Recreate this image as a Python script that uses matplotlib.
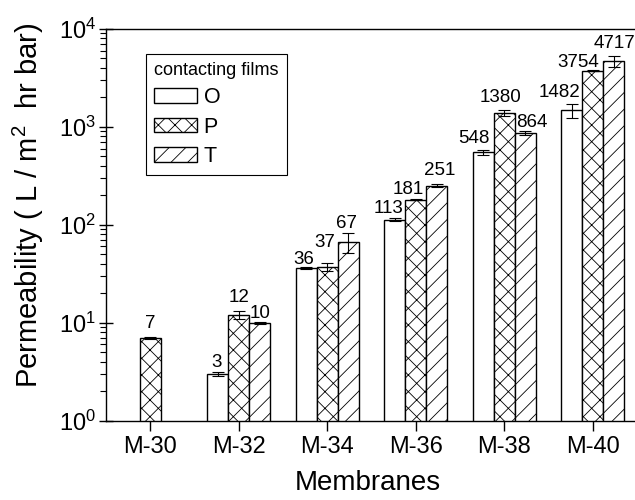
import numpy as np
import matplotlib
matplotlib.use('Agg')
import matplotlib.pyplot as plt

plt.rcParams['font.family'] = ['Liberation Sans', 'DejaVu Sans']
plt.rcParams['mathtext.fontset'] = 'custom'
plt.rcParams['mathtext.rm'] = 'Liberation Sans'
plt.rcParams['mathtext.it'] = 'Liberation Sans:italic'
plt.rcParams['mathtext.bf'] = 'Liberation Sans:bold'
plt.rcParams['hatch.linewidth'] = 0.6

# ---- data ----
membranes = ['M-30', 'M-32', 'M-34', 'M-36', 'M-38', 'M-40']
films = ['O', 'P', 'T']
perm_O = [np.nan, 3, 36, 113, 548, 1482]
perm_P = [7, 12, 37, 181, 1380, 3754]
perm_T = [np.nan, 10, 67, 251, 864, 4717]
err_O = [np.nan, 0.15, 0.6, 4, 38, 240]
err_P = [0.15, 1.2, 3.5, 2.5, 90, 70]
err_T = [np.nan, 0.25, 15, 9, 40, 600]

# ---- layout (label offsets in pixels from bar top) ----
off_O = [(0, 0), (-1, 7), (-2, 4), (-6, 7), (-9, 9), (-12, 13)]
off_P = [(0, 10), (0, 13), (-2, 20), (-7, 6), (-4, 11), (-15, 4)]
off_T = [(0, 0), (0, 5), (-2, 14), (3, 11), (6, 6), (1, 13)]
hatches = ['', 'xx', '//']

fig = plt.figure(figsize=(6.35, 5.0), dpi=100)
ax = fig.add_axes([106 / 635, 79.5 / 500, 531 / 635, 391.5 / 500])

x = np.arange(len(membranes))
w = 0.238
series = [(perm_O, err_O, off_O), (perm_P, err_P, off_P), (perm_T, err_T, off_T)]
handles = []
for i, (vals, errs, offs) in enumerate(series):
    xi = x + (i - 1) * w
    b = ax.bar(xi, vals, width=w, color='white', edgecolor='black',
               linewidth=1.0, hatch=hatches[i], label=films[i], zorder=2)
    handles.append(b)
    ax.errorbar(xi, vals, yerr=errs, fmt='none', ecolor='black',
                elinewidth=0.8, capsize=4, capthick=0.8, zorder=3)
    for xx, v, (dx, dy) in zip(xi, vals, offs):
        if np.isnan(v):
            continue
        ax.annotate(f'{int(v)}', xy=(xx, v), xytext=(dx, dy),
                    textcoords='offset pixels', ha='center', va='baseline',
                    fontsize=13.5)

ax.set_yscale('log')
ax.set_ylim(1, 1e4)
ax.set_xlim(-0.5, 5.5)
ax.set_xticks(x, membranes)
ax.tick_params(axis='x', direction='out', length=7, width=1, labelsize=17, pad=4)
ax.tick_params(axis='y', which='major', direction='inout', length=10, width=1,
               labelsize=17, pad=2)
ax.tick_params(axis='y', which='minor', direction='out', length=4, width=0.8)
for s in ax.spines.values():
    s.set_linewidth(1.0)

fig.text(28 / 635, 1 - 205 / 500, r'Permeability ( L / m$^{2}$  hr bar)',
         rotation=90, ha='center', va='center', fontsize=21)
fig.text(368 / 635, 1 - 483 / 500, 'Membranes', ha='center', va='center',
         fontsize=20)

leg = ax.legend(handles=handles, title='contacting films', loc='upper left',
                bbox_to_anchor=(0.0754, 0.936), borderaxespad=0,
                frameon=True, fancybox=False, edgecolor='black', framealpha=1,
                fontsize=15.5, title_fontsize=13, alignment='left',
                handlelength=2.0, handleheight=0.68, handletextpad=0.3,
                labelspacing=0.38, borderpad=0.38)
leg.get_frame().set_linewidth(0.8)

fig.savefig('out.png', dpi=100)
